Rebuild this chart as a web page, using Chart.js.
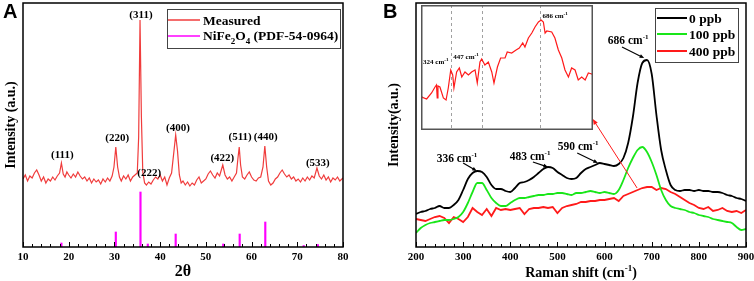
<!DOCTYPE html>
<html>
<head>
<meta charset="utf-8">
<script src="https://cdn.jsdelivr.net/npm/chart.js@4.4.0/dist/chart.umd.min.js"></script>
<style>
html, body { margin: 0; padding: 0; background: #fff; overflow: hidden; }
#wrap { position: relative; width: 754px; height: 281px; }
canvas { position: absolute; top: 0; }
</style>
</head>
<body>
<div id="wrap">
    <canvas id="xrdChart" width="380" height="281" style="left:0px"></canvas>
    <canvas id="ramanChart" width="390" height="281" style="left:376px"></canvas>
    <canvas id="insetChart" width="172" height="125" style="left:421px; top:5px"></canvas>
</div>
<script>
const SERIF = '"Liberation Serif", "Times New Roman", serif';

// ---- Panel A: XRD ----
const xrdTheta = [10.0, 10.5, 11.0, 11.5, 12.0, 12.5, 13.0, 13.5, 14.0, 14.5, 15.0, 15.5, 16.0, 16.5, 17.0, 17.5, 18.0, 18.4, 18.8, 19.2,
    19.6, 20.0, 20.5, 21.0, 21.5, 22.0, 22.5, 23.0, 23.5, 24.0, 24.5, 25.0, 25.5, 26.0, 26.5, 27.0, 27.5, 28.0, 28.5, 29.0,
    29.5, 29.9, 30.3, 30.7, 31.1, 31.5, 32.0, 32.5, 33.0, 33.5, 34.0, 34.5, 35.0, 35.3, 35.6, 35.9, 36.2, 36.6, 37.0, 37.5,
    38.0, 38.5, 39.0, 39.5, 40.0, 40.5, 41.0, 41.5, 42.0, 42.5, 43.0, 43.4, 43.8, 44.2, 44.6, 45.0, 45.5, 46.0, 46.5, 47.0,
    47.5, 48.0, 48.5, 49.0, 49.5, 50.0, 50.5, 51.0, 51.5, 52.0, 52.5, 53.0, 53.7, 54.2, 54.7, 55.2, 55.7, 56.2, 56.7, 57.0,
    57.3, 57.6, 58.0, 58.5, 59.0, 59.5, 60.0, 60.5, 61.0, 61.5, 62.0, 62.5, 62.9, 63.3, 63.7, 64.2, 64.7, 65.2, 65.7, 66.2,
    66.7, 67.2, 67.7, 68.2, 68.7, 69.2, 69.7, 70.2, 70.7, 71.2, 71.7, 72.2, 72.7, 73.2, 73.7, 74.3, 74.8, 75.3, 75.8, 76.3,
    76.8, 77.3, 77.8, 78.3, 78.8, 79.3, 80.0];
const xrdMeasured = [68, 72, 66, 71, 69, 74, 77, 72, 66, 70, 64, 68, 66, 70, 67, 71, 74, 84, 73, 70,
    75, 72, 69, 73, 70, 75, 71, 68, 70, 66, 69, 64, 68, 65, 67, 63, 68, 65, 69, 66,
    71, 80, 100, 80, 70, 66, 71, 68, 72, 66, 70, 72, 74, 110, 227, 130, 75, 64, 62, 65,
    63, 67, 70, 68, 72, 66, 70, 62, 69, 74, 95, 112, 96, 72, 64, 66, 62, 65, 61, 64,
    62, 67, 70, 64, 66, 68, 73, 76, 72, 69, 74, 71, 82, 72, 68, 70, 66, 70, 74, 88,
    100, 82, 70, 68, 72, 75, 70, 67, 66, 69, 70, 80, 101, 80, 66, 62, 64, 68, 70, 74,
    77, 73, 70, 72, 68, 70, 66, 68, 65, 69, 66, 70, 67, 71, 69, 79, 71, 68, 72, 67,
    70, 65, 69, 67, 70, 66, 69];
const refTheta = [18.4, 30.3, 35.7, 37.3, 43.4, 53.8, 57.4, 63.0, 71.4, 74.5];
const refIntensity = [4, 15, 55, 3, 13, 3, 13, 25, 1.5, 2.5];
const hklText = ['(111)', '(220)', '(311)', '(222)', '(400)', '(422)', '(511)', '(440)', '(533)'];
const hklTheta = [18.6, 30.6, 35.8, 37.6, 43.9, 53.6, 57.5, 63.1, 74.5];
const hklLevel = [92, 109, 232, 74, 119, 89, 110, 110, 84];

// ---- Panel B: Raman ----
const ramanShift = [200, 210, 220, 230, 240, 250, 260, 270, 280, 290, 300, 310, 320, 330, 340, 350, 360, 370, 380, 390,
    400, 410, 420, 430, 440, 450, 460, 470, 480, 490, 500, 510, 520, 530, 540, 550, 560, 570, 580, 590,
    600, 610, 620, 630, 640, 650, 660, 670, 680, 690, 700, 710, 720, 730, 740, 750, 760, 770, 780, 790,
    800, 810, 820, 830, 840, 850, 860, 870, 880, 890, 900];
const raman0ppb = [33, 35, 36, 38, 39, 41, 39, 39, 42, 47, 57, 68, 74, 76, 75, 70, 62, 58, 58, 56,
    55, 59, 64, 65, 67, 70, 74, 78, 80, 79, 75, 72, 69, 68, 69, 74, 78, 80, 82, 84,
    83, 82, 81, 83, 89, 104, 130, 164, 184, 187, 173, 132, 97, 77, 62, 57, 56, 57, 57, 56,
    57, 56, 56, 55, 55, 54, 52, 51, 49, 48, 46];
const raman100ppb = [14, 19, 22, 24, 25, 26, 27, 27, 28, 30, 35, 44, 55, 64, 64, 57, 49, 44, 41, 41,
    44, 47, 49, 49, 50, 51, 52, 52, 53, 53, 54, 54, 53, 52, 54, 54, 55, 56, 55, 54,
    55, 54, 53, 57, 67, 79, 89, 97, 100, 95, 85, 72, 57, 47, 41, 39, 38, 37, 35, 34,
    32, 31, 30, 28, 27, 26, 25, 24, 20, 17, 18];
const raman400ppb = [28, 27, 26, 28, 30, 31, 29, 24, 30, 28, 25, 30, 39, 35, 32, 38, 31, 39, 37, 38,
    37, 38, 39, 33, 38, 39, 39, 40, 39, 40, 34, 39, 41, 42, 43, 45, 45, 46, 46, 47,
    47, 48, 49, 46, 51, 53, 55, 57, 59, 60, 60, 57, 59, 58, 55, 53, 50, 47, 44, 42,
    39, 38, 40, 36, 37, 39, 36, 35, 36, 34, 37];
const ramanLabels = ['0 ppb', '100 ppb', '400 ppb'];
const ramanColors = ['#000000', '#19e619', '#ff1a1a'];
// peak call-outs: text anchor (shift, level), arrow from / to (shift, level)
const peakShift = [336, 483, 590, 686];
const peakTextShift = [287, 442, 544, 650];
const peakTextLevel = [89, 91, 101, 207];
const peakArrowFrom = [[300, 84], [448, 85], [542, 94], [637, 200]];
const peakArrowTo = [[329, 76], [480, 80], [586, 84], [684, 189]];

// ---- Inset (400 ppb, zoomed) ----
const insetShift = [200, 203, 223, 243, 257, 263, 266, 269, 277, 291, 302, 311, 321, 329, 334, 345, 356, 366, 379, 393,
    406, 420, 429, 440, 447, 460, 474, 488, 497, 511, 524, 542, 551, 569, 587, 600, 614, 623, 637, 651,
    664, 678, 689, 698, 705, 712, 732, 745, 759, 773, 786, 800, 813, 827, 840, 854, 868, 881, 895, 900];
const insetIntensity = [34, 33, 31, 37, 43, 45, 32, 44, 43, 32, 30, 42, 60, 55, 42, 58, 62, 53, 58, 55,
    58, 60, 47, 68, 71, 65, 68, 58, 47, 63, 72, 72, 78, 77, 80, 82, 87, 83, 92, 97,
    103, 108, 110, 108, 97, 99, 98, 92, 80, 72, 60, 53, 62, 60, 50, 53, 50, 57, 56, 55];
const insetMarks = [324, 447, 686];
const insetMarkLevel = [68, 73, 114];

function toXY(xs, ys) {
    return xs.map((x, i) => ({ x: x, y: ys[i] }));
}

function drawRich(ctx, parts, x, y, size, align, weight) {
    const w = weight || 'bold';
    const fontFor = k => `${w} ${k ? Math.round(size * 0.65) : size}px ${SERIF}`;
    let total = 0;
    parts.forEach(([t, k]) => { ctx.font = fontFor(k); total += ctx.measureText(t).width; });
    let cx = align === 'center' ? x - total / 2 : align === 'right' ? x - total : x;
    ctx.textAlign = 'left';
    ctx.textBaseline = 'alphabetic';
    parts.forEach(([t, k]) => {
        ctx.font = fontFor(k);
        const dy = k === 'sub' ? size * 0.28 : k === 'sup' ? -size * 0.42 : 0;
        ctx.fillText(t, cx, y + dy);
        cx += ctx.measureText(t).width;
    });
}

function drawInwardTicks(ctx, scale, bottom, minorStep, majorStep) {
    ctx.beginPath();
    for (let v = scale.min; v <= scale.max + 1e-9; v += minorStep) {
        const px = Math.round(scale.getPixelForValue(v)) + 0.5;
        const isMajor = Math.abs(v / majorStep - Math.round(v / majorStep)) < 1e-6;
        ctx.moveTo(px, bottom);
        ctx.lineTo(px, bottom - (isMajor ? 5 : 3));
    }
    ctx.stroke();
}

function drawArrow(ctx, x1, y1, x2, y2, color, head) {
    const ang = Math.atan2(y2 - y1, x2 - x1);
    ctx.strokeStyle = color;
    ctx.fillStyle = color;
    ctx.beginPath();
    ctx.moveTo(x1, y1);
    ctx.lineTo(x2 - Math.cos(ang) * head * 0.6, y2 - Math.sin(ang) * head * 0.6);
    ctx.stroke();
    ctx.beginPath();
    ctx.moveTo(x2, y2);
    ctx.lineTo(x2 - head * Math.cos(ang - 0.4), y2 - head * Math.sin(ang - 0.4));
    ctx.lineTo(x2 - head * Math.cos(ang + 0.4), y2 - head * Math.sin(ang + 0.4));
    ctx.closePath();
    ctx.fill();
}

const tickFont = { family: SERIF, size: 11, weight: 'bold' };

// frame, inward ticks, hkl labels, legend, panel letter
const xrdDecor = {
    id: 'xrdDecor',
    afterDraw(chart) {
        const { ctx, chartArea: a, scales: { x, y } } = chart;
        ctx.save();
        ctx.strokeStyle = '#000';
        ctx.lineWidth = 1.5;
        ctx.strokeRect(a.left, a.top, a.right - a.left, a.bottom - a.top);
        ctx.lineWidth = 1;
        drawInwardTicks(ctx, x, a.bottom, 2, 10);

        ctx.fillStyle = '#000';
        ctx.font = 'bold 11px ' + SERIF;
        ctx.textAlign = 'center';
        ctx.textBaseline = 'middle';
        hklText.forEach((t, i) => {
            ctx.fillText(t, x.getPixelForValue(hklTheta[i]), y.getPixelForValue(hklLevel[i]));
        });

        // legend box
        ctx.strokeStyle = '#444';
        ctx.lineWidth = 1;
        ctx.strokeRect(167.5, 9.5, 173, 39);
        ctx.lineWidth = 1.5;
        ctx.strokeStyle = '#f03c3c';
        ctx.beginPath(); ctx.moveTo(168, 20); ctx.lineTo(200, 20); ctx.stroke();
        ctx.strokeStyle = '#ff00ff';
        ctx.beginPath(); ctx.moveTo(168, 36); ctx.lineTo(200, 36); ctx.stroke();
        ctx.fillStyle = '#000';
        drawRich(ctx, [['Measured', '']], 203, 25, 13.5, 'left');
        drawRich(ctx, [['NiFe', ''], ['2', 'sub'], ['O', ''], ['4', 'sub'], [' (PDF-54-0964)', '']], 203, 40, 13.5, 'left');

        ctx.font = 'bold 20px "Liberation Sans", Arial, sans-serif';
        ctx.textAlign = 'left';
        ctx.textBaseline = 'top';
        ctx.fillText('A', 3, 2);
        ctx.restore();
    }
};

const ramanDecor = {
    id: 'ramanDecor',
    afterDraw(chart) {
        const { ctx, chartArea: a, scales: { x, y } } = chart;
        ctx.save();
        ctx.strokeStyle = '#000';
        ctx.lineWidth = 1.5;
        ctx.strokeRect(a.left, a.top, a.right - a.left, a.bottom - a.top);
        ctx.lineWidth = 1;
        drawInwardTicks(ctx, x, a.bottom, 20, 100);

        // x title with superscript
        ctx.fillStyle = '#000';
        drawRich(ctx, [['Raman shift (cm', ''], ['-1', 'sup'], [')', '']], (a.left + a.right) / 2, 277, 14, 'center');

        // peak call-outs
        ctx.lineWidth = 1.2;
        peakShift.forEach((p, i) => {
            drawRich(ctx, [[p + ' cm', ''], ['-1', 'sup']], x.getPixelForValue(peakTextShift[i]),
                y.getPixelForValue(peakTextLevel[i]) + 4, 11.5, 'center');
            drawArrow(ctx, x.getPixelForValue(peakArrowFrom[i][0]), y.getPixelForValue(peakArrowFrom[i][1]),
                x.getPixelForValue(peakArrowTo[i][0]), y.getPixelForValue(peakArrowTo[i][1]), '#000', 5);
        });

        // red pointer from 400 ppb curve to inset
        ctx.lineWidth = 1;
        drawArrow(ctx, x.getPixelForValue(669), y.getPixelForValue(59),
            x.getPixelForValue(575), y.getPixelForValue(128), '#ff1a1a', 6);

        // legend
        ctx.strokeStyle = '#444';
        ctx.lineWidth = 1;
        ctx.strokeRect(279.5, 8.5, 83, 54);
        ramanLabels.forEach((lab, i) => {
            const yy = [18, 34, 51][i];
            ctx.strokeStyle = ramanColors[i];
            ctx.lineWidth = 2;
            ctx.beginPath(); ctx.moveTo(281, yy); ctx.lineTo(311, yy); ctx.stroke();
            ctx.fillStyle = '#000';
            drawRich(ctx, [[lab, '']], 313, yy + 5, 13.5, 'left');
        });

        ctx.font = 'bold 20px "Liberation Sans", Arial, sans-serif';
        ctx.textAlign = 'left';
        ctx.textBaseline = 'top';
        ctx.fillText('B', 7, 2);
        ctx.restore();
    }
};

const insetDecor = {
    id: 'insetDecor',
    beforeDraw(chart) {
        const { ctx, width, height } = chart;
        ctx.save();
        ctx.fillStyle = '#fff';
        ctx.fillRect(0, 0, width, height);
        ctx.restore();
    },
    beforeDatasetsDraw(chart) {
        const { ctx, chartArea: a, scales: { x } } = chart;
        ctx.save();
        ctx.strokeStyle = '#888';
        ctx.lineWidth = 0.8;
        ctx.setLineDash([3, 3]);
        insetMarks.forEach(m => {
            const px = Math.round(x.getPixelForValue(m)) + 0.5;
            ctx.beginPath(); ctx.moveTo(px, a.top); ctx.lineTo(px, a.bottom); ctx.stroke();
        });
        ctx.restore();
    },
    afterDraw(chart) {
        const { ctx, width, height, scales: { x, y } } = chart;
        ctx.save();
        ctx.fillStyle = '#000';
        insetMarks.forEach((m, i) => {
            const px = x.getPixelForValue(m);
            const last = i === insetMarks.length - 1;
            drawRich(ctx, [[m + ' cm', ''], ['-1', 'sup']], last ? px + 2 : px - 3,
                y.getPixelForValue(insetMarkLevel[i]) + 2, 7, last ? 'left' : 'right');
        });
        ctx.strokeStyle = '#555';
        ctx.lineWidth = 1.5;
        ctx.strokeRect(0.75, 0.75, width - 1.5, height - 1.5);
        ctx.restore();
    }
};

new Chart(document.getElementById('xrdChart'), {
    type: 'line',
    data: {
        datasets: [
            {
                type: 'line',
                label: 'Measured',
                data: toXY(xrdTheta, xrdMeasured),
                borderColor: '#f03c3c',
                borderWidth: 1.2,
                pointRadius: 0,
                tension: 0
            },
            {
                type: 'bar',
                label: 'NiFe2O4 (PDF-54-0964)',
                data: toXY(refTheta, refIntensity),
                backgroundColor: '#ff00ff',
                barThickness: 1.5
            }
        ]
    },
    options: {
        responsive: false,
        devicePixelRatio: 1,
        animation: false,
        events: [],
        layout: { padding: { left: 0, top: 3, right: 37, bottom: 0 } },
        plugins: { legend: { display: false }, tooltip: { enabled: false } },
        scales: {
            x: {
                type: 'linear',
                min: 10,
                max: 80,
                offset: false,
                grid: { display: false, drawTicks: false },
                border: { display: false },
                ticks: { stepSize: 10, padding: 4, color: '#000', font: tickFont, maxRotation: 0 },
                title: { display: true, text: '2θ', color: '#000', padding: 0, font: { family: SERIF, size: 16, weight: 'bold' } },
                afterFit: s => { s.height = 34; }
            },
            y: {
                min: 0,
                max: 244,
                grid: { display: false, drawTicks: false },
                border: { display: false },
                ticks: { display: false },
                title: { display: true, text: 'Intensity (a.u.)', color: '#000', padding: { top: 3, bottom: 0 }, font: { family: SERIF, size: 14, weight: 'bold' } },
                afterFit: s => { s.width = 23; }
            }
        }
    },
    plugins: [xrdDecor]
});

new Chart(document.getElementById('ramanChart'), {
    type: 'line',
    data: {
        datasets: [raman0ppb, raman100ppb, raman400ppb].map((vals, i) => ({
            label: ramanLabels[i],
            data: toXY(ramanShift, vals),
            borderColor: ramanColors[i],
            borderWidth: 1.8,
            pointRadius: 0,
            cubicInterpolationMode: i === 2 ? 'default' : 'monotone',
            tension: i === 2 ? 0 : 0.4
        }))
    },
    options: {
        responsive: false,
        devicePixelRatio: 1,
        animation: false,
        events: [],
        layout: { padding: { left: 10, top: 3, right: 20, bottom: 0 } },
        plugins: { legend: { display: false }, tooltip: { enabled: false } },
        scales: {
            x: {
                type: 'linear',
                min: 200,
                max: 900,
                grid: { display: false, drawTicks: false },
                border: { display: false },
                ticks: { stepSize: 100, padding: 4, color: '#000', font: tickFont, maxRotation: 0 },
                afterFit: s => { s.height = 34; }
            },
            y: {
                min: 0,
                max: 244,
                grid: { display: false, drawTicks: false },
                border: { display: false },
                ticks: { display: false },
                title: { display: true, text: 'Intensity(a.u.)', color: '#000', padding: { top: 0, bottom: 0 }, font: { family: SERIF, size: 14, weight: 'bold' } },
                afterFit: s => { s.width = 30; }
            }
        }
    },
    plugins: [ramanDecor]
});

new Chart(document.getElementById('insetChart'), {
    type: 'line',
    data: {
        datasets: [{
            label: '400 ppb',
            data: toXY(insetShift, insetIntensity),
            borderColor: '#ff1a1a',
            borderWidth: 1.2,
            pointRadius: 0,
            tension: 0
        }]
    },
    options: {
        responsive: false,
        devicePixelRatio: 1,
        animation: false,
        events: [],
        layout: { padding: 0 },
        plugins: { legend: { display: false }, tooltip: { enabled: false } },
        scales: {
            x: { type: 'linear', min: 200, max: 900, display: false },
            y: { min: 0, max: 125, display: false }
        }
    },
    plugins: [insetDecor]
});
</script>
</body>
</html>
